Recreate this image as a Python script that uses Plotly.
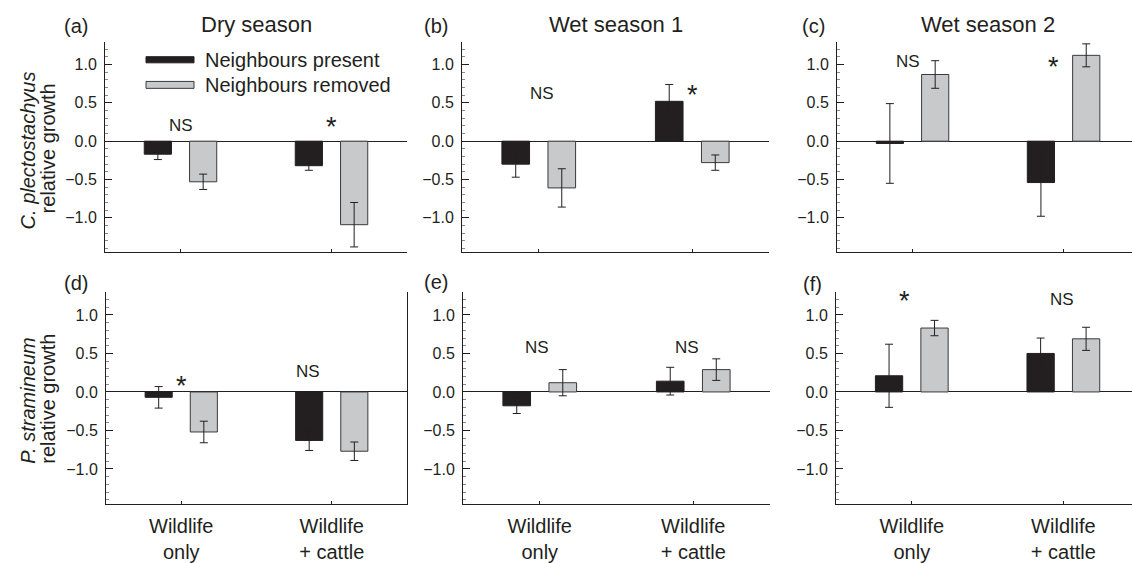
import plotly.graph_objects as go

# ---------------- data ----------------
categories = ["Wildlife<br>only", "Wildlife<br>+ cattle"]
series_names = ["Neighbours present", "Neighbours removed"]
panel_letters = ["(a)", "(b)", "(c)", "(d)", "(e)", "(f)"]
season_titles = ["Dry season", "Wet season 1", "Wet season 2"]
species_labels = ["<i>C. plectostachyus</i>", "<i>P. stramineum</i>"]

# mean relative growth [wildlife only, wildlife + cattle]
a_present = [-0.17, -0.32]
a_present_err = [0.07, 0.06]
a_removed = [-0.53, -1.09]
a_removed_err = [0.10, 0.29]

b_present = [-0.30, 0.52]
b_present_err = [0.17, 0.22]
b_removed = [-0.61, -0.28]
b_removed_err = [0.25, 0.10]

c_present = [-0.03, -0.54]
c_present_err = [0.52, 0.44]
c_removed = [0.87, 1.12]
c_removed_err = [0.18, 0.15]

d_present = [-0.07, -0.63]
d_present_err = [0.14, 0.13]
d_removed = [-0.52, -0.77]
d_removed_err = [0.14, 0.12]

e_present = [-0.18, 0.14]
e_present_err = [0.10, 0.18]
e_removed = [0.12, 0.29]
e_removed_err = [0.17, 0.14]

f_present = [0.21, 0.50]
f_present_err = [0.41, 0.20]
f_removed = [0.83, 0.69]
f_removed_err = [0.10, 0.15]

present = [a_present, b_present, c_present, d_present, e_present, f_present]
present_err = [a_present_err, b_present_err, c_present_err, d_present_err, e_present_err, f_present_err]
removed = [a_removed, b_removed, c_removed, d_removed, e_removed, f_removed]
removed_err = [a_removed_err, b_removed_err, c_removed_err, d_removed_err, e_removed_err, f_removed_err]

# significance labels: (text, x category position, y value)
sig_labels = [
    [("NS", 0.0, 0.21), ("*", 1.0, 0.18)],
    [("NS", 0.02, 0.62), ("*", 1.0, 0.60)],
    [("NS", -0.03, 1.04), ("*", 0.93, 0.965)],
    [("*", 0.0, 0.08), ("NS", 0.845, 0.27)],
    [("NS", -0.02, 0.58), ("NS", 0.96, 0.58)],
    [("*", -0.05, 1.185), ("NS", 0.99, 1.20)],
]

# ---------------- layout helpers ----------------
W, H = 1132, 563
FONT = "Liberation Sans, Arial, Helvetica, sans-serif"
INK = "#231f20"
BLACK_BAR = "#231f20"
GREY_BAR = "#c8c9cb"

def px_x(p):
    return p / W

def px_y(p):
    return 1 - p / H

x_dom_px = [(105, 407), (462, 769), (837, 1132), (106, 407), (463, 770), (836, 1132)]
y_dom_px = [(42, 255), (42, 255), (42, 255), (295, 509), (295, 509), (295, 509)]
x_ranges = [[-0.5, 1.5], [-0.5, 1.5], [-0.5, 1.453], [-0.5, 1.5], [-0.5, 1.5], [-0.5, 1.453]]
Y_RANGE = [-1.45, 1.30]

fig = go.Figure()

for i in range(6):
    sfx = "" if i == 0 else str(i + 1)
    xa, ya = "x" + sfx, "y" + sfx
    fig.add_trace(go.Bar(
        x=categories, y=present[i], name=series_names[0],
        marker=dict(color=BLACK_BAR, line=dict(color=INK, width=1)),
        error_y=dict(type="data", array=present_err[i], color=INK, thickness=1, width=4),
        xaxis=xa, yaxis=ya, showlegend=False,
    ))
    fig.add_trace(go.Bar(
        x=categories, y=removed[i], name=series_names[1],
        marker=dict(color=GREY_BAR, line=dict(color="#3a3a3a", width=1)),
        error_y=dict(type="data", array=removed_err[i], color=INK, thickness=1, width=4),
        xaxis=xa, yaxis=ya, showlegend=False,
    ))

    x0, x1 = x_dom_px[i]
    yt, yb = y_dom_px[i]
    bottom_row = i >= 3
    fig.update_layout({
        "xaxis" + sfx: dict(
            domain=[px_x(x0), px_x(x1)], anchor=ya, type="category",
            range=x_ranges[i], showline=True, linecolor=INK, linewidth=1,
            ticks="inside", ticklen=3, tickcolor=INK, showgrid=False, zeroline=False,
            showticklabels=bottom_row, tickfont=dict(family=FONT, size=20, color=INK),
            ticklabelstandoff=4,
        ),
        "yaxis" + sfx: dict(
            domain=[px_y(yb), px_y(yt)], anchor=xa, range=Y_RANGE,
            tickmode="linear", tick0=0, dtick=0.5, tickformat=".1f",
            ticks="inside", ticklen=7, tickcolor=INK,
            showline=True, linecolor=INK, linewidth=1, mirror=(i == 3),
            zeroline=True, zerolinecolor=INK, zerolinewidth=1, showgrid=False,
            tickfont=dict(family=FONT, size=16, color=INK), ticklabelstandoff=4,
            minor=dict(dtick=0.1, tick0=0, ticks="inside", ticklen=3, tickcolor="#8a8a8a", showgrid=False),
        ),
    })

    # significance annotations
    for txt, xv, yv in sig_labels[i]:
        fig.add_annotation(
            x=xv, y=yv, xref=xa, yref=ya, text=txt, showarrow=False,
            font=dict(family=FONT, size=17 if txt == "NS" else 27, color=INK),
            xanchor="center", yanchor="middle",
        )

annotations = []
# panel letters
letter_pos = [(76, 26), (436, 26), (813, 26), (76, 286), (436, 285), (812, 287)]
for lab, (lx, ly) in zip(panel_letters, letter_pos):
    annotations.append(dict(x=px_x(lx), y=px_y(ly), text=lab))
# season titles
title_pos = [(256, 25), (615.5, 25), (988, 25)]
for t, (tx, ty) in zip(season_titles, title_pos):
    annotations.append(dict(x=px_x(tx), y=px_y(ty), text=t, size=22))
# y-axis titles
for sp, cy in zip(species_labels, [152, 405]):
    annotations.append(dict(x=px_x(28), y=px_y(cy), text=sp, angle=-90))
    annotations.append(dict(x=px_x(48), y=px_y(cy - 2), text="relative growth", angle=-90))
# legend texts
for name, ly in zip(series_names, [61, 85.5]):
    annotations.append(dict(x=px_x(203), y=px_y(ly), text=name, xanchor="left"))

for a in annotations:
    fig.add_annotation(
        x=a["x"], y=a["y"], xref="paper", yref="paper", text=a["text"],
        showarrow=False, textangle=a.get("angle", 0),
        xanchor=a.get("xanchor", "center"), yanchor="middle",
        font=dict(family=FONT, size=a.get("size", 20), color=INK),
    )

# legend swatches
fig.add_shape(type="rect", xref="paper", yref="paper",
              x0=px_x(146), x1=px_x(194), y0=px_y(63.5), y1=px_y(57.3),
              fillcolor=BLACK_BAR, line=dict(color=INK, width=1))
fig.add_shape(type="rect", xref="paper", yref="paper",
              x0=px_x(146), x1=px_x(194), y0=px_y(89.3), y1=px_y(82.3),
              fillcolor=GREY_BAR, line=dict(color="#3a3a3a", width=1))

fig.update_layout(
    width=W, height=H, margin=dict(l=0, r=0, t=0, b=0),
    paper_bgcolor="white", plot_bgcolor="white",
    barmode="group", bargap=0.4, bargroupgap=0.4,
    font=dict(family=FONT, color=INK),
    showlegend=False,
)

fig.write_html(
    "out.html",
    config={"displayModeBar": False},
    post_script="document.body.style.margin='0';document.body.style.overflow='hidden';",
)
